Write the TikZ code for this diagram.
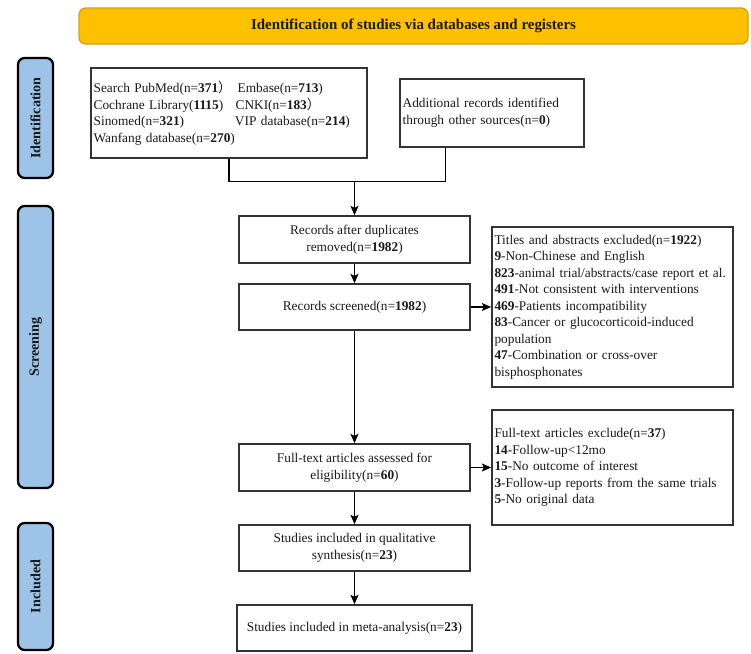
\documentclass[tikz,border=0pt]{standalone}
\usepackage{fontspec}
\setmainfont{Liberation Serif}
\newfontfamily\cjk{Noto Sans CJK SC}
\usetikzlibrary{arrows.meta,calc}
\definecolor{boxc}{HTML}{333333}
\definecolor{txt}{HTML}{1A1A1A}
\definecolor{labfill}{HTML}{9DC3E6}
\definecolor{ban}{HTML}{FFC000}
\definecolor{banb}{HTML}{D4A017}
\newcommand\Lx[1]{\mbox{#1}}
\begin{document}
\begin{tikzpicture}[x=0.75pt,y=-0.75pt,
  box/.style={draw=boxc,line width=1.2pt,inner sep=1.5pt,text=txt,
    font=\fontsize{10}{12.4}\selectfont},
  lab/.style={draw=black,line width=1.7pt,rounded corners=5pt,fill=labfill,
    minimum height=26.25pt,inner sep=1pt,text=txt,
    font=\fontsize{10.6}{12}\selectfont\bfseries,rotate=90},
  arr/.style={-{Stealth[length=7pt,width=6pt,inset=1.5pt]},line width=1.1pt,draw=black},
  ln/.style={line width=1.1pt,draw=black}]
\fill[white] (0,0) rectangle (751,654);
\useasboundingbox (0,0) rectangle (751,654);

% banner
\node[draw=banb,fill=ban,rounded corners=5pt,line width=1pt,
  minimum width=501.75pt,minimum height=27pt,text=txt,
  font=\fontsize{11.2}{13}\selectfont\bfseries] (banner) at (413.5,26)
  {Identification of studies via databases and registers};

% side labels
\node[lab,minimum width=90pt] (lid) at (35.5,118) {Identification};
\node[lab,minimum width=211.5pt] (lsc) at (35.5,347) {Screening};
\node[lab,minimum width=95.25pt] (lin) at (35.5,586.5) {Included};

% boxes
\node[box,minimum width=207pt,minimum height=67.5pt,text width=203pt,align=left] (search) at (229,113)
{\Lx{\makebox[108pt][l]{Search PubMed(n=\textbf{371}{\cjk ）}}Embase(n=\textbf{713})}\\
 \Lx{\makebox[106.5pt][l]{Cochrane Library(\textbf{1115})}CNKI(n=\textbf{183}{\cjk ）}}\\
 \Lx{\makebox[106pt][l]{Sinomed(n=\textbf{321})}VIP database(n=\textbf{214})}\\
 \Lx{Wanfang database(n=\textbf{270})}};

\node[box,minimum width=138pt,minimum height=51pt,text width=134pt,align=left] (add) at (492,113)
{\Lx{Additional records identified}\\
 \Lx{through other sources(n=\textbf{0})}};

\node[box,minimum width=173.25pt,minimum height=35.25pt,align=center] (rad) at (354.5,239.5)
{Records after duplicates\\removed(n=\textbf{1982})};

\node[box,minimum width=173.25pt,minimum height=34.5pt,align=center] (scr) at (354.5,307)
{Records screened(n=\textbf{1982})};

\node[box,minimum width=180.75pt,minimum height=120pt,text width=177pt,align=left] (tit) at (612.5,307)
{\Lx{Titles and abstracts excluded(n=\textbf{1922})}\\
 \Lx{\textbf{9}-Non-Chinese and English}\\
 \Lx{\textbf{823}-animal trial/abstracts/case report et al.}\\
 \Lx{\textbf{491}-Not consistent with interventions}\\
 \Lx{\textbf{469}-Patients incompatibility}\\
 \Lx{\textbf{83}-Cancer or glucocorticoid-induced}\\
 \Lx{population}\\
 \Lx{\textbf{47}-Combination or cross-over}\\
 \Lx{bisphosphonates}};

\node[box,minimum width=173.25pt,minimum height=35.25pt,align=center] (ft) at (354.5,467.5)
{Full-text articles assessed for\\eligibility(n=\textbf{60})};

\node[box,minimum width=180.75pt,minimum height=86.25pt,text width=177pt,align=left] (exc) at (612.5,467.5)
{\Lx{Full-text articles exclude(n=\textbf{37})}\\
 \Lx{\textbf{14}-Follow-up<12mo}\\
 \Lx{\textbf{15}-No outcome of interest}\\
 \Lx{\textbf{3}-Follow-up reports from the same trials}\\
 \Lx{\textbf{5}-No original data}};

\node[box,minimum width=173.25pt,minimum height=34.5pt,align=center] (qual) at (354.5,548)
{Studies included in qualitative\\synthesis(n=\textbf{23})};

\node[box,minimum width=176.25pt,minimum height=34.5pt,align=center] (meta) at (354.5,628)
{Studies included in meta-analysis(n=\textbf{23})};

% connectors
\coordinate (j) at (354.5,181.5);
\coordinate (aj) at ($(add.south west)!0.25!(add.south east)$);
\draw[ln] (search.south) |- (j);
\draw[ln] (aj) |- (j);
\draw[arr] (j) -- (rad.north);
\draw[arr] (rad.south) -- (scr.north);
\draw[arr] (scr.east) -- (tit.west);
\draw[arr] (scr.south) -- (ft.north);
\draw[arr] (ft.east) -- (exc.west);
\draw[arr] (ft.south) -- (qual.north);
\draw[arr] (qual.south) -- (meta.north);
\end{tikzpicture}
\end{document}
